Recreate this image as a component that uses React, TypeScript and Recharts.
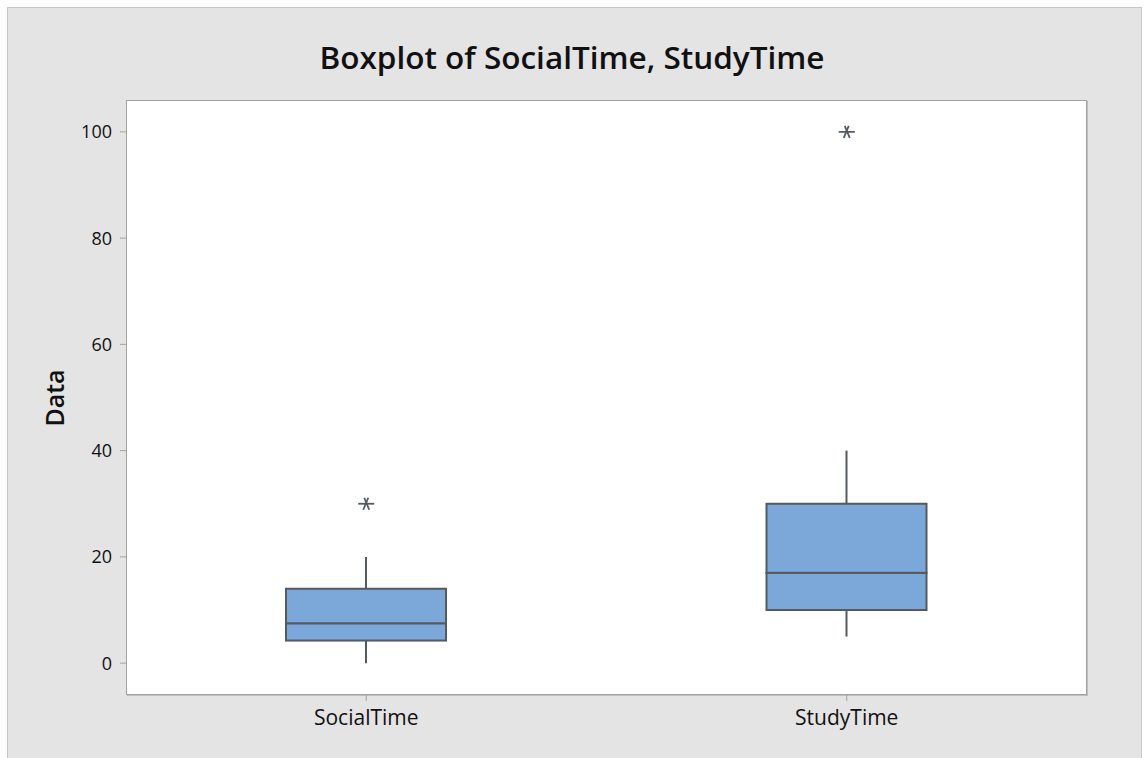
import React from 'react'
import { ComposedChart, Bar, Scatter, XAxis, YAxis } from 'recharts'

// five-number summaries per column
const categories = ['SocialTime', 'StudyTime']
const whiskerLow = [0, 5]
const q1 = [4.25, 10]
const median = [7.5, 17]
const q3 = [14, 30]
const whiskerHigh = [20, 40]
const outliers = [30, 100]
const yTicks = [0, 20, 40, 60, 80, 100]

const data = categories.map((name, i) => ({
  name,
  base: whiskerLow[i],
  lowWhisker: q1[i] - whiskerLow[i],
  lowBox: median[i] - q1[i],
  highBox: q3[i] - median[i],
  highWhisker: whiskerHigh[i] - q3[i],
  outlier: outliers[i],
}))

const BOX_FILL = '#7ba7d9'
const EDGE = '#555a60'
const FONT = '"Open Sans", "Noto Sans", sans-serif'

const Whisker = (p: any) => {
  const cx = p.x + p.width / 2
  return <line x1={cx} x2={cx} y1={p.y} y2={p.y + p.height} stroke={EDGE} strokeWidth={2} />
}

const BoxPart = (p: any) => (
  <rect x={p.x} y={p.y} width={p.width} height={p.height} fill={BOX_FILL} stroke={EDGE} strokeWidth={2} />
)

const Hidden = () => null

// minitab-style asterisk for outliers
const Star = (p: any) => {
  const { cx, cy } = p
  return (
    <g stroke={EDGE} strokeWidth={1.8}>
      <line x1={cx - 8} x2={cx + 8} y1={cy} y2={cy} />
      <line x1={cx - 2} x2={cx + 3} y1={cy - 6} y2={cy + 6} />
      <line x1={cx + 2} x2={cx - 3} y1={cy - 6} y2={cy + 6} />
    </g>
  )
}

export default function App() {
  return (
    <div style={{ position: 'absolute', left: 0, top: 0, width: 1144, height: 758, background: '#fff', fontFamily: FONT }}>
      <div style={{ position: 'absolute', left: 7, top: 7, width: 1133, height: 760, background: '#e4e4e4', border: '1px solid #c9c9c9' }} />
      <div style={{ position: 'absolute', left: 126, top: 100, width: 959, height: 593, background: '#fff', border: '1px solid #a2a2a2', boxShadow: '1px 1px 0 #bdbdbd' }} />
      <div style={{ position: 'absolute', left: 572, top: 35, transform: 'translateX(-50%)', whiteSpace: 'nowrap', fontSize: 31.5, fontWeight: 600, color: '#111' }}>
        Boxplot of SocialTime, StudyTime
      </div>
      <div style={{ position: 'absolute', left: 54, top: 398, transform: 'translate(-50%, -50%) rotate(-90deg)', fontSize: 25, fontWeight: 600, color: '#111' }}>
        Data
      </div>
      <div style={{ position: 'absolute', left: 0, top: 0 }}>
        <ComposedChart width={1144} height={758} data={data} margin={{ top: 100, right: 57, bottom: 33, left: 66 }}>
          <XAxis
            dataKey="name"
            type="category"
            axisLine={false}
            tickLine={{ stroke: '#a2a2a2' }}
            tickSize={6}
            tickMargin={9}
            height={30}
            tick={{ fontSize: 21, fill: '#111', fontFamily: FONT }}
          />
          <YAxis
            type="number"
            domain={[-6, 106]}
            ticks={yTicks}
            allowDataOverflow
            axisLine={false}
            tickLine={{ stroke: '#a2a2a2' }}
            tickSize={6}
            tickMargin={8}
            width={60}
            tick={{ fontSize: 18, fill: '#111', fontFamily: FONT }}
          />
          <Bar dataKey="base" stackId="box" barSize={160} shape={Hidden} isAnimationActive={false} />
          <Bar dataKey="lowWhisker" stackId="box" barSize={160} shape={Whisker} isAnimationActive={false} />
          <Bar dataKey="lowBox" stackId="box" barSize={160} shape={BoxPart} isAnimationActive={false} />
          <Bar dataKey="highBox" stackId="box" barSize={160} shape={BoxPart} isAnimationActive={false} />
          <Bar dataKey="highWhisker" stackId="box" barSize={160} shape={Whisker} isAnimationActive={false} />
          <Scatter dataKey="outlier" shape={Star} isAnimationActive={false} />
        </ComposedChart>
      </div>
    </div>
  )
}
